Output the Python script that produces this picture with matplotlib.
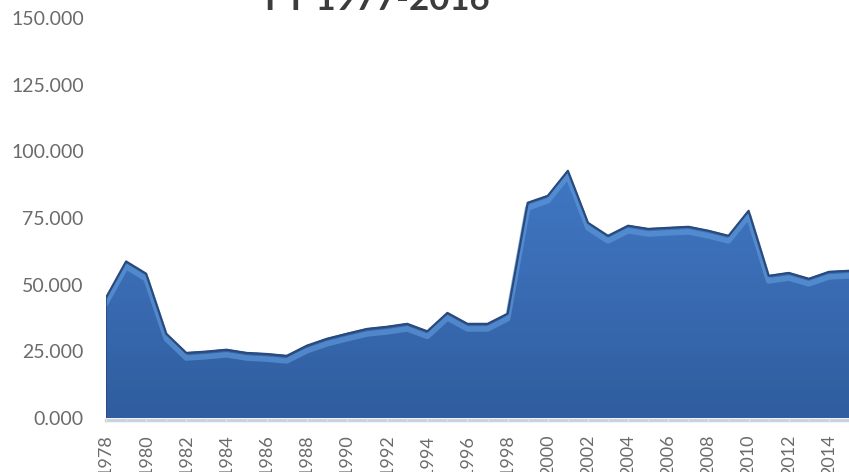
import numpy as np
import matplotlib
matplotlib.use("Agg")
from matplotlib import pyplot as plt
from matplotlib.ticker import FormatStrFormatter, MultipleLocator

title = "FY 1977-2016"
years = list(range(1978, 2016))
values = [45.4, 59.0, 54.4, 31.9, 24.7, 25.2, 25.9, 24.7, 24.3, 23.6,
          27.4, 30.0, 31.9, 33.7, 34.5, 35.6, 32.8, 39.7, 35.6, 35.6,
          39.4, 81.0, 83.6, 93.0, 73.5, 68.6, 72.4, 71.2, 71.6, 72.0,
          70.5, 68.6, 78.0, 53.6, 54.7, 52.5, 55.1, 55.5]
label_years = list(range(1978, 2015, 2))

grey = "#6b6b6b"
plt.rcParams["font.family"] = ["Lato", "DejaVu Sans"]


def main():
    fig = plt.figure(figsize=(8.49, 4.72), dpi=100)
    ax = fig.add_axes([106 / 849, 54 / 472, 743 / 849, 400 / 472])

    x = np.array(years, dtype=float)
    y = np.array(values)

    # area with vertical gradient, clipped to the filled polygon
    poly = ax.fill_between(x, 0, y, color="none", lw=0)
    grad = np.linspace(0, 1, 256).reshape(-1, 1)
    cmap = matplotlib.colors.LinearSegmentedColormap.from_list(
        "area", ["#2f5d9e", "#3a6cb4", "#4079c4"])
    img = ax.imshow(grad, cmap=cmap, extent=[x[0], x[-1], 0, 100],
                    origin="lower", aspect="auto", zorder=2)
    path = poly.get_paths()[0]
    img.set_clip_path(path, transform=ax.transData)

    # bevel highlight under the top edge, then the dark rim
    ax.plot(x, y - 2.2, color="#5c96d8", lw=4, alpha=0.7, zorder=3,
            solid_joinstyle="round")
    ax.plot(x, y - 0.3, color="#2b4a7c", lw=1.6, zorder=4,
            solid_joinstyle="round")
    ax.plot([x[0], x[0]], [0, y[0]], color="#2b4a7c", lw=1.2, zorder=4)

    # light baseline
    ax.axhline(-0.8, color="#c9d3e0", lw=2.5, zorder=1, clip_on=False)

    ax.set_xlim(1978, 1978 + 743 / 20.22)
    ax.set_ylim(0, 150)
    ax.yaxis.set_major_locator(MultipleLocator(25))
    ax.yaxis.set_major_formatter(FormatStrFormatter("%.3f"))
    ax.set_xticks(label_years)
    ax.set_xticklabels([str(v) for v in label_years], rotation=90,
                       va="top", ha="center")
    ax.set_xticks(years, minor=True)

    for side in ax.spines:
        ax.spines[side].set_visible(False)
    ax.tick_params(axis="y", length=0, pad=16, labelsize=14, labelcolor=grey)
    ax.tick_params(axis="x", which="both", length=3, color="#e4e4e4",
                   pad=9, labelsize=13, labelcolor=grey)

    fig.text(377 / 849, 1 - 10 / 472, title, ha="center", va="baseline",
             fontsize=25, fontweight="bold", color="#3c3c3c")

    fig.savefig("out.png", dpi=100)


if __name__ == "__main__":
    main()
